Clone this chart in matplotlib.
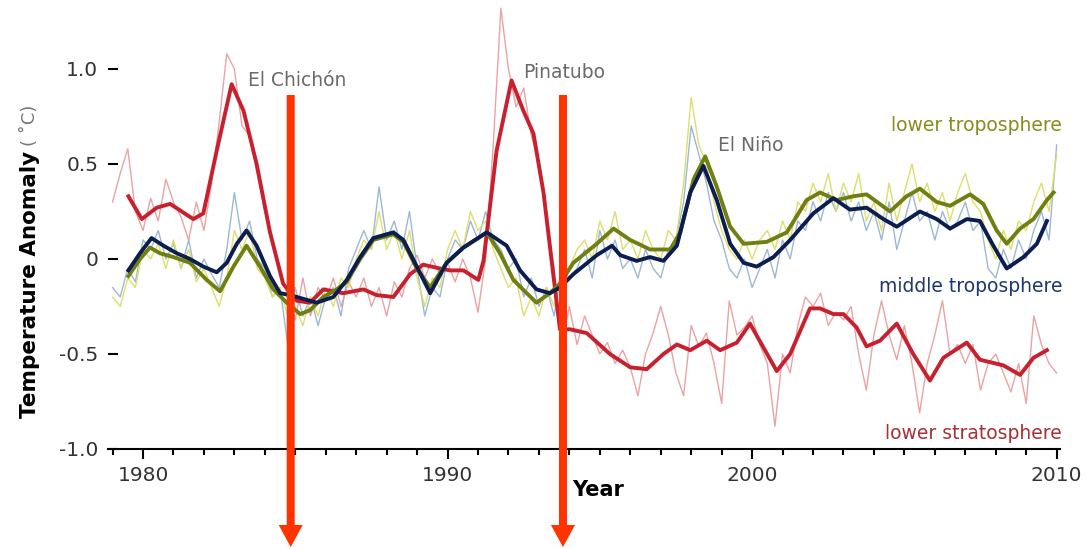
import numpy as np
import matplotlib
matplotlib.use("Agg")
import matplotlib.pyplot as plt
from matplotlib.patches import FancyArrow

# thin (monthly-ish) curves, quarterly samples from 1979.0 to 2010.0
thin_years = np.arange(1979.0, 2010.01, 0.25)

strat_thin = [
    0.30, 0.45, 0.58, 0.25,
    0.15, 0.32, 0.20, 0.42,
    0.30, 0.22, 0.10, 0.30,
    0.15, 0.40, 0.72, 1.08,
    1.00, 0.70, 0.65, 0.45,
    0.25, 0.10, -0.05, -0.20,
    -0.32, -0.10, -0.30, -0.15,
    -0.22, -0.10, -0.25, -0.12,
    -0.20, -0.10, -0.25, -0.15,
    -0.30, -0.12, -0.20, -0.05,
    0.02, -0.10, 0.00, -0.08,
    -0.02, -0.12, 0.00, -0.10,
    -0.28, 0.00, 0.60, 1.32,
    1.00, 0.80, 0.90, 0.65,
    0.50, 0.20, -0.05, -0.45,
    -0.25, -0.45, -0.30, -0.40,
    -0.50, -0.44, -0.55, -0.48,
    -0.57, -0.72, -0.50, -0.39,
    -0.25, -0.40, -0.60, -0.72,
    -0.35, -0.46, -0.39, -0.55,
    -0.76, -0.22, -0.40, -0.36,
    -0.30, -0.45, -0.55, -0.88,
    -0.50, -0.60, -0.35, -0.20,
    -0.25, -0.18, -0.35, -0.28,
    -0.32, -0.25, -0.50, -0.69,
    -0.40, -0.22, -0.40, -0.53,
    -0.35, -0.55, -0.81, -0.55,
    -0.40, -0.22, -0.50, -0.45,
    -0.55, -0.45, -0.69, -0.55,
    -0.50, -0.60, -0.70, -0.55,
    -0.76, -0.30, -0.45, -0.55,
    -0.60,
]

mid_thin = [
    -0.15, -0.20, -0.05, -0.12,
    0.10, 0.05, 0.15, 0.00,
    0.08, -0.05, 0.10, -0.10,
    0.00, -0.08, -0.15, 0.05,
    0.35, 0.10, 0.20, 0.00,
    -0.05, -0.20, -0.15, -0.45,
    -0.15, -0.30, -0.20, -0.35,
    -0.20, -0.15, -0.30, -0.05,
    0.05, 0.15, 0.05, 0.38,
    0.10, 0.20, 0.05, 0.25,
    -0.05, -0.30, -0.15, -0.20,
    0.00, 0.10, 0.05, 0.20,
    0.10, 0.25, 0.10, 0.05,
    -0.05, 0.00, -0.20, -0.10,
    -0.25, -0.15, -0.30, -0.05,
    -0.10, -0.05, 0.05, -0.10,
    0.15, 0.00, 0.10, -0.05,
    0.00, -0.10, 0.05, -0.05,
    -0.10, 0.05, 0.10, 0.30,
    0.70, 0.55, 0.40, 0.20,
    0.10, -0.05, -0.10, 0.00,
    -0.15, -0.05, 0.05, -0.10,
    0.10, 0.00, 0.20, 0.15,
    0.30, 0.20, 0.35, 0.25,
    0.35, 0.20, 0.30, 0.15,
    0.25, 0.10, 0.30, 0.05,
    0.20, 0.35, 0.20, 0.25,
    0.10, 0.25, 0.15, 0.20,
    0.30, 0.15, 0.20, -0.05,
    -0.10, 0.05, -0.05, 0.10,
    0.00, 0.15, 0.25, 0.10,
    0.60,
]

low_thin = [
    -0.20, -0.25, -0.10, -0.15,
    0.05, 0.00, 0.08, -0.05,
    0.10, -0.05, 0.05, -0.12,
    -0.05, -0.15, -0.25, -0.10,
    0.15, 0.05, 0.15, -0.05,
    -0.10, -0.20, -0.15, -0.30,
    -0.25, -0.35, -0.20, -0.30,
    -0.15, -0.25, -0.10, -0.15,
    0.00, 0.10, 0.05, 0.25,
    0.05, 0.15, 0.00, 0.15,
    -0.10, -0.25, -0.10, -0.15,
    0.05, 0.15, 0.05, 0.25,
    0.15, 0.20, 0.05, -0.05,
    -0.15, -0.10, -0.30, -0.20,
    -0.30, -0.15, -0.25, -0.05,
    -0.05, 0.05, 0.10, 0.00,
    0.20, 0.10, 0.25, 0.05,
    0.10, 0.00, 0.15, 0.05,
    0.00, 0.15, 0.10, 0.40,
    0.85, 0.60, 0.50, 0.30,
    0.15, 0.05, 0.00, 0.10,
    0.00, 0.10, 0.15, 0.05,
    0.20, 0.10, 0.30, 0.25,
    0.40, 0.30, 0.45, 0.25,
    0.40, 0.30, 0.45, 0.20,
    0.30, 0.15, 0.40, 0.20,
    0.35, 0.50, 0.30, 0.40,
    0.25, 0.35, 0.20, 0.35,
    0.45, 0.30, 0.25, 0.10,
    0.00, 0.15, 0.05, 0.20,
    0.15, 0.30, 0.40, 0.25,
    0.55,
]

# smoothed curves
strat_years = [1979.52, 1979.96, 1980.45, 1980.89, 1981.65, 1981.98, 1982.42, 1982.91,
               1983.30, 1983.73, 1984.17, 1984.60, 1985.05, 1985.48, 1985.92, 1986.58,
               1987.24, 1987.67, 1988.22, 1988.77, 1989.20, 1989.75, 1990.08, 1990.52,
               1991.01, 1991.18, 1991.61, 1992.10, 1992.49, 1992.82, 1993.15, 1993.47,
               1993.69, 1994.02, 1994.57, 1995.33, 1996.00, 1996.54, 1997.09, 1997.53,
               1997.97, 1998.51, 1998.95, 1999.50, 1999.93, 2000.81, 2001.25, 2001.90,
               2002.23, 2002.67, 2003.00, 2003.43, 2003.76, 2004.20, 2004.75, 2005.29,
               2005.84, 2006.28, 2007.05, 2007.48, 2008.25, 2008.80, 2009.24, 2009.68]
strat_smooth = [0.33, 0.21, 0.27, 0.29, 0.21, 0.24, 0.57, 0.92,
                0.78, 0.50, 0.14, -0.13, -0.22, -0.23, -0.16, -0.18,
                -0.16, -0.19, -0.20, -0.08, -0.03, -0.05, -0.06, -0.06,
                -0.11, -0.01, 0.57, 0.94, 0.78, 0.66, 0.35, -0.08,
                -0.37, -0.37, -0.39, -0.50, -0.57, -0.58, -0.50, -0.45,
                -0.48, -0.43, -0.48, -0.44, -0.34, -0.59, -0.50, -0.26,
                -0.26, -0.29, -0.29, -0.36, -0.46, -0.43, -0.34, -0.50,
                -0.64, -0.52, -0.44, -0.53, -0.56, -0.61, -0.52, -0.48]

mid_years = [1979.52, 1979.90, 1980.28, 1980.67, 1981.11, 1981.54, 1981.98, 1982.42,
             1982.75, 1983.08, 1983.40, 1983.73, 1984.17, 1984.50, 1984.83, 1985.27,
             1985.70, 1986.25, 1986.69, 1987.13, 1987.56, 1988.22, 1988.55, 1988.99,
             1989.43, 1989.97, 1990.52, 1991.29, 1991.94, 1992.38, 1992.92, 1993.36,
             1993.69, 1994.13, 1994.90, 1995.40, 1995.67, 1996.21, 1996.65, 1997.09,
             1997.53, 1997.97, 1998.40, 1998.84, 1999.28, 1999.72, 2000.15, 2000.70,
             2001.25, 2002.01, 2002.67, 2003.21, 2003.76, 2004.31, 2004.75, 2005.51,
             2006.06, 2006.50, 2007.05, 2007.48, 2007.92, 2008.36, 2008.91, 2009.35,
             2009.68]
mid_smooth = [-0.06, 0.03, 0.11, 0.07, 0.03, 0.00, -0.04, -0.07,
              -0.02, 0.08, 0.15, 0.07, -0.09, -0.18, -0.19, -0.21,
              -0.23, -0.20, -0.11, 0.01, 0.11, 0.14, 0.10, -0.04,
              -0.18, -0.02, 0.06, 0.14, 0.07, -0.06, -0.16, -0.18,
              -0.15, -0.08, 0.02, 0.07, 0.02, -0.01, 0.01, -0.01,
              0.07, 0.35, 0.49, 0.31, 0.08, -0.02, -0.04, 0.01,
              0.10, 0.24, 0.32, 0.26, 0.27, 0.21, 0.17, 0.25,
              0.21, 0.16, 0.21, 0.20, 0.07, -0.05, 0.01, 0.08,
              0.20]

low_years = [1979.52, 1979.90, 1980.23, 1980.56, 1981.00, 1981.54, 1982.09, 1982.53,
             1982.97, 1983.40, 1983.84, 1984.28, 1984.72, 1985.16, 1985.48, 1985.92,
             1986.36, 1986.69, 1987.13, 1987.56, 1988.22, 1988.55, 1988.99, 1989.43,
             1989.97, 1990.52, 1991.29, 1991.72, 1992.16, 1992.60, 1992.92, 1993.36,
             1993.69, 1994.13, 1994.90, 1995.45, 1996.00, 1996.65, 1997.31, 1997.64,
             1998.08, 1998.46, 1998.84, 1999.28, 1999.72, 2000.48, 2001.14, 2001.79,
             2002.23, 2002.78, 2003.32, 2003.76, 2004.53, 2005.07, 2005.51, 2006.06,
             2006.50, 2007.16, 2007.59, 2008.03, 2008.36, 2008.80, 2009.24, 2009.68,
             2009.90]
low_smooth = [-0.09, 0.00, 0.06, 0.03, 0.01, -0.02, -0.11, -0.17,
              -0.04, 0.07, -0.04, -0.16, -0.23, -0.29, -0.27, -0.20,
              -0.16, -0.12, 0.00, 0.10, 0.13, 0.09, -0.05, -0.15,
              -0.02, 0.06, 0.14, 0.03, -0.11, -0.18, -0.23, -0.18,
              -0.13, -0.02, 0.08, 0.16, 0.10, 0.05, 0.05, 0.14,
              0.42, 0.54, 0.38, 0.17, 0.08, 0.09, 0.14, 0.31,
              0.35, 0.31, 0.33, 0.34, 0.25, 0.33, 0.37, 0.30,
              0.28, 0.34, 0.29, 0.15, 0.08, 0.16, 0.21, 0.31,
              0.35]

events = ["El Chichón", "Pinatubo", "El Niño"]
event_pos = [(1983.45, 0.94), (1992.48, 0.98), (1998.88, 0.595)]
arrow_years = [1984.85, 1993.79]

fig = plt.figure(figsize=(10.87, 5.49), dpi=100)
ax = fig.add_axes([108 / 1087, 1 - 449 / 549, (1060 - 108) / 1087, 449 / 549])

ax.plot(thin_years, strat_thin, color="#eaa3a3", lw=1.0, zorder=1)
ax.plot(thin_years, mid_thin, color="#9db8d4", lw=1.0, zorder=1)
ax.plot(thin_years, low_thin, color="#dede70", lw=1.0, zorder=1)

ax.plot(strat_years, strat_smooth, color="#c8202e", lw=2.8, zorder=3)
ax.plot(low_years, low_smooth, color="#6f7f10", lw=2.8, zorder=3)
ax.plot(mid_years, mid_smooth, color="#0c1d50", lw=2.8, zorder=4)

ax.set_xlim(1978.85, 2010.11)
ax.set_ylim(-1.0, 1.363)

for s in ["top", "right", "left"]:
    ax.spines[s].set_visible(False)
ax.spines["bottom"].set_linewidth(1.5)

ax.set_xticks([1980, 1990, 2000, 2010])
ax.set_xticks(range(1979, 2011), minor=True)
ax.set_yticks([-1.0, -0.5, 0, 0.5, 1.0])
ax.set_yticklabels(["-1.0", "-0.5", "0", "0.5", "1.0"])
ax.tick_params(axis="x", which="major", length=7, width=1.5, labelsize=14.5,
               labelcolor="#333333", pad=5)
ax.tick_params(axis="x", which="minor", length=4, width=1.5)
ax.tick_params(axis="y", direction="in", length=7, width=1.5, labelsize=14.5,
               labelcolor="#333333", pad=7)

grey = "#6a6a6a"
for name, (x, y) in zip(events, event_pos):
    ax.text(x, y, name, fontsize=13.5, color=grey, va="center", ha="left")

ax.text(2010.18, 0.705, "lower troposphere", fontsize=13.5, color="#8a8c1c",
        ha="right", va="center")
ax.text(2010.18, -0.147, "middle troposphere", fontsize=13.5, color="#1c386c",
        ha="right", va="center")
ax.text(2010.18, -0.92, "lower stratosphere", fontsize=13.5, color="#a83034",
        ha="right", va="center")

ax.text(1994.09, -1.216, "Year", fontsize=15, fontweight="bold", color="black",
        ha="left", va="center", clip_on=False)

fig.text(30 / 1087, 1 - 418 / 549, "Temperature Anomaly", rotation=90,
         fontsize=15.5, fontweight="bold", ha="center", va="bottom")
fig.text(30 / 1087, 1 - 146 / 549, "( ˚C)", rotation=90, fontsize=13,
         color="#777777", ha="center", va="bottom")

for x in arrow_years:
    arr = FancyArrow(x, 0.863, 0, -1.516 - 0.863, width=0.263, head_width=0.79,
                     head_length=0.116, length_includes_head=True,
                     color="#ff3300", lw=0, zorder=6, clip_on=False)
    ax.add_patch(arr)

fig.savefig("out.png", dpi=100)
